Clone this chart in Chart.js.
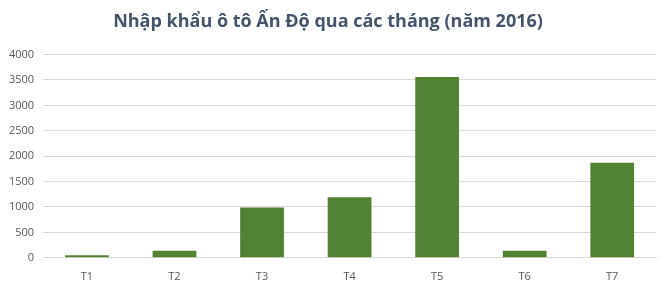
<!DOCTYPE html>
<html>
<head>
<meta charset="utf-8">
<script src="https://cdn.jsdelivr.net/npm/chart.js@4"></script>
<style>
    html, body { margin: 0; padding: 0; background: #fff; }
    #wrap { width: 670px; height: 288px; }
</style>
</head>
<body>
<div id="wrap"><canvas id="importChart"></canvas></div>
<script>
// Dữ liệu nhập khẩu theo tháng
const months = ['T1', 'T2', 'T3', 'T4', 'T5', 'T6', 'T7'];
const imports = [50, 140, 990, 1190, 3560, 140, 1870];
const yTicks = [0, 500, 1000, 1500, 2000, 2500, 3000, 3500, 4000];

const tickColor = '#595959';
const gridColor = '#d9d9d9';

const ctx = document.getElementById('importChart').getContext('2d');
const importChart = new Chart(ctx, {
    type: 'bar',
    data: {
        labels: months,
        datasets: [
            {
                label: 'Nhập khẩu',
                data: imports,
                backgroundColor: '#548235',
                barPercentage: 0.5,
                categoryPercentage: 1.0
            }
        ]
    },
    options: {
        responsive: true,
        maintainAspectRatio: false,
        animation: false,
        layout: {
            padding: { left: 0, right: 14, top: 0, bottom: 1 }
        },
        plugins: {
            legend: { display: false },
            tooltip: { enabled: false },
            title: {
                display: true,
                text: 'Nhập khẩu ô tô Ấn Độ qua các tháng (năm 2016)',
                color: '#44546a',
                font: { family: 'Open Sans', size: 18, weight: 'bold' },
                padding: { top: 11, bottom: 22 }
            }
        },
        scales: {
            x: {
                grid: { display: false },
                border: { display: true, color: gridColor },
                ticks: {
                    color: tickColor,
                    font: { family: 'Open Sans', size: 11 },
                    padding: 4
                }
            },
            y: {
                min: 0,
                max: 4000,
                afterBuildTicks: axis => {
                    axis.ticks = yTicks.map(v => ({ value: v }));
                },
                grid: {
                    color: gridColor,
                    drawTicks: false
                },
                border: { display: false },
                ticks: {
                    color: tickColor,
                    font: { family: 'Open Sans', size: 11 },
                    padding: 9,
                    callback: value => String(value)
                }
            }
        }
    }
});
</script>
</body>
</html>
